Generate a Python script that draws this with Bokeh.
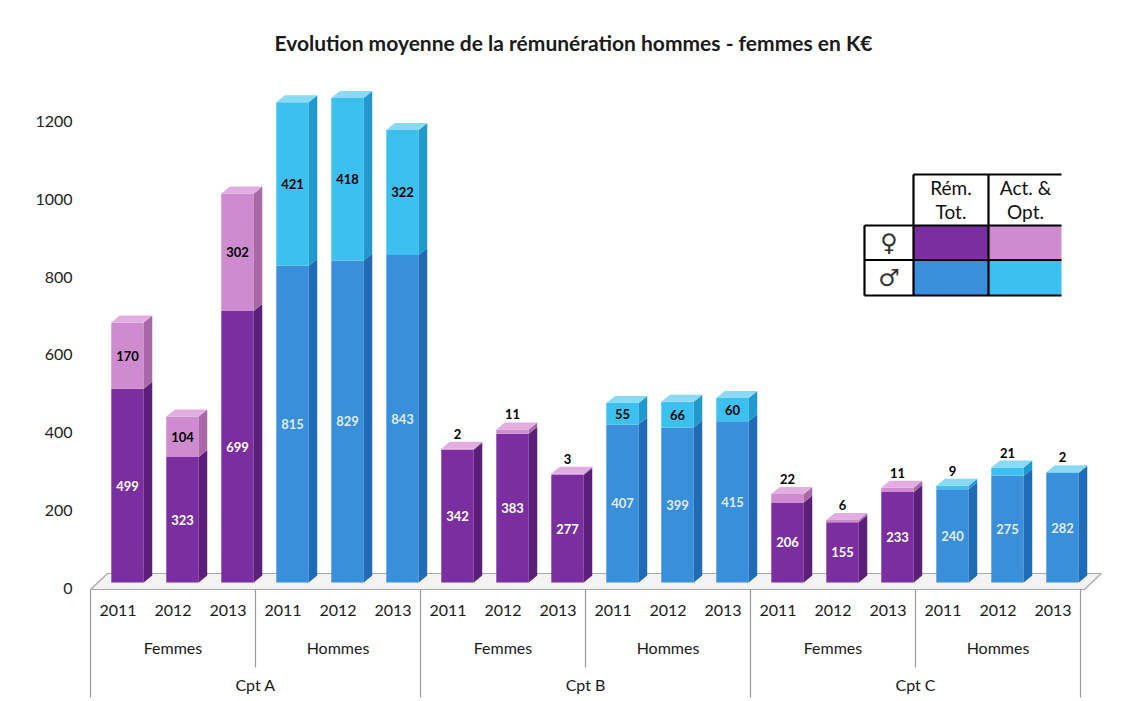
from bokeh.plotting import figure
from bokeh.models import FixedTicker, Range1d, ColumnDataSource, LinearAxis
from bokeh.core.properties import value
from bokeh.embed import file_html
from bokeh.resources import INLINE

# ---------------- data ----------------
comptes = ["Cpt A", "Cpt B", "Cpt C"]
sexes = ["Femmes", "Hommes"]
annees = ["2011", "2012", "2013"]
# order: Cpt A 2011-2013, Cpt B 2011-2013, Cpt C 2011-2013
rem_femmes = [499, 323, 699, 342, 383, 277, 206, 155, 233]
act_femmes = [170, 104, 302, 2, 11, 3, 22, 6, 11]
rem_hommes = [815, 829, 843, 407, 399, 415, 240, 275, 282]
act_hommes = [421, 418, 322, 55, 66, 60, 9, 21, 2]
y_ticks = [0, 200, 400, 600, 800, 1000, 1200]
legend_cols = ["Rém.\nTot.", "Act. &\nOpt."]
legend_rows = ["♀", "♂"]

# ---------------- styling ----------------
FONT = "Lato"
# [front, side, top] for (rem, act) of femmes / hommes
COLORS = {
    0: (("#7B2E9F", "#5B1F7A", "#9A55B8"), ("#CF8BCF", "#A868A8", "#E2AEE2")),
    1: (("#3A8FDA", "#1F6BB5", "#6AAFE8"), ("#3CC0F0", "#2099CC", "#8ADAF6")),
}
W, H = 1119, 698
FRAME_L, FRAME_T = 86, 60      # page pixels
ORIG_X, ORIG_Y = 90, 582       # page pixels of slot 0 / value 0
PXX = 55.0       # pixels per category slot
PXY = 0.3885     # pixels per K€
BAR_L = 0.378    # front-face left offset inside the slot
BAR_W = 0.59     # front-face width (slot units)
DX = 8.5 / PXX   # depth (3D) offsets
DY = 7.0 / PXY
WALL_SHIFT = 5.5 / PXY   # value axis is read on the floor's front edge

y0, y1 = (ORIG_Y - H) / PXY, (ORIG_Y - FRAME_T) / PXY
p = figure(width=W, height=H, output_backend="svg", toolbar_location=None,
           x_range=Range1d((FRAME_L - ORIG_X) / PXX, (W - ORIG_X) / PXX),
           y_range=Range1d(y0, y1),
           x_axis_location=None, y_axis_location=None, min_border_left=FRAME_L,
           min_border_right=0, min_border_top=FRAME_T, min_border_bottom=0)
p.extra_y_ranges = {"wall": Range1d(y0 + WALL_SHIFT, y1 + WALL_SHIFT)}
p.outline_line_color = None
p.grid.visible = False
p.background_fill_color = "white"
p.border_fill_color = "white"

p.title.text = "Evolution moyenne de la rémunération hommes - femmes en K€"
p.title.text_font = FONT
p.title.text_font_size = "21px"
p.title.text_font_style = "bold"
p.title.text_color = "#1a1a1a"
p.title.align = "left"
p.title.offset = 188
p.title.standoff = 11

yax = LinearAxis(y_range_name="wall", ticker=FixedTicker(ticks=y_ticks))
yax.axis_line_color = None
yax.major_tick_line_color = None
yax.minor_tick_line_color = None
yax.major_label_standoff = 8
yax.major_label_text_font = FONT
yax.major_label_text_font_size = "16px"
yax.major_label_text_color = "#222222"
p.add_layout(yax, "left")

# ---------------- floor ----------------
FL_FRONT = -7 / PXY
FL_BACK = 9 / PXY
FL_SHIFT = 17 / PXX
p.patch(x=[0, 18.07, 18.07 + FL_SHIFT, FL_SHIFT], y=[FL_FRONT, FL_FRONT, FL_BACK, FL_BACK],
        fill_color="#f3f3f3", line_color="#a8a8a8", line_width=1.2)

# ---------------- bars ----------------
front = dict(left=[], right=[], bottom=[], top=[], color=[])
side = dict(xs=[], ys=[], color=[])
topf = dict(xs=[], ys=[], color=[])
lab_in = dict(x=[], y=[], text=[], color=[], alpha=[])
lab_act = dict(x=[], y=[], text=[])

for c in range(3):
    for s, (rem, act) in enumerate([(rem_femmes, act_femmes), (rem_hommes, act_hommes)]):
        for yi in range(3):
            k = c * 3 + yi
            slot = c * 6 + s * 3 + yi
            l = slot + BAR_L
            r = l + BAR_W
            segs = [(0, rem[k], COLORS[s][0]), (rem[k], rem[k] + act[k], COLORS[s][1])]
            for b, t, col in segs:
                front["left"].append(l); front["right"].append(r)
                front["bottom"].append(b); front["top"].append(t)
                front["color"].append(col[0])
                side["xs"].append([r, r + DX, r + DX, r])
                side["ys"].append([b, b + DY, t + DY, t])
                side["color"].append(col[1])
            tt = rem[k] + act[k]
            topf["xs"].append([l, r, r + DX, l + DX])
            topf["ys"].append([tt, tt, tt + DY, tt + DY])
            topf["color"].append(COLORS[s][1][2])
            cx = l + BAR_W / 2
            lab_in["x"].append(cx); lab_in["y"].append(rem[k] / 2)
            lab_in["text"].append(str(rem[k]))
            lab_in["color"].append("white")
            lab_in["alpha"].append(1.0 if s == 0 else 0.85)
            lab_act["x"].append(cx)
            if act[k] >= 30:
                lab_act["y"].append(rem[k] + act[k] / 2)
            else:
                lab_act["y"].append(tt + 15 / PXY)
            lab_act["text"].append(str(act[k]))

p.quad(left="left", right="right", bottom="bottom", top="top", fill_color="color",
       line_color=None, source=ColumnDataSource(front))
p.patches(xs="xs", ys="ys", fill_color="color", line_color=None,
          source=ColumnDataSource(side))
p.patches(xs="xs", ys="ys", fill_color="color", line_color=None,
          source=ColumnDataSource(topf))

p.text(x="x", y="y", text="text", text_color="color", text_alpha="alpha",
       text_font=value(FONT), text_font_size="13px", text_font_style="bold",
       text_align="center", text_baseline="middle", source=ColumnDataSource(lab_in))
p.text(x="x", y="y", text="text", text_color="black",
       text_font=value(FONT), text_font_size="13px", text_font_style="bold",
       text_align="center", text_baseline="middle", source=ColumnDataSource(lab_act))

# ---------------- hierarchical category axis (drawn) ----------------
def X(px):
    return (px - ORIG_X) / PXX


def Y(py):
    return (ORIG_Y - py) / PXY


Y_YEAR = Y(610)
Y_GROUP = Y(647)
Y_CPT = Y(684)
Y_BOTTOM = Y(697)
Y_MID = Y(667)

sep_x0, sep_y0, sep_x1, sep_y1 = [], [], [], []
for i in range(0, 19, 3):
    full = (i % 6 == 0)
    sep_x0.append(i); sep_x1.append(i)
    sep_y0.append(FL_FRONT); sep_y1.append(Y_BOTTOM if full else Y_MID)
p.segment(x0=sep_x0, y0=sep_y0, x1=sep_x1, y1=sep_y1, line_color="#9a9a9a", line_width=1.2)

yx, yt = [], []
for slot in range(18):
    yx.append(slot + 0.5); yt.append(annees[slot % 3])
p.text(x=yx, y=[Y_YEAR] * len(yx), text=yt, text_font=value(FONT), text_font_size="16px",
       text_color="#1a1a1a", text_align="center", text_baseline="middle")

gx, gt = [], []
for c in range(3):
    for s in range(2):
        gx.append(c * 6 + s * 3 + 1.5); gt.append(sexes[s])
p.text(x=gx, y=[Y_GROUP] * len(gx), text=gt, text_font=value(FONT), text_font_size="16px",
       text_color="#1a1a1a", text_align="center", text_baseline="middle")

p.text(x=[c * 6 + 3 for c in range(3)], y=[Y_CPT] * 3, text=comptes, text_font=value(FONT),
       text_font_size="16px", text_color="#1a1a1a", text_align="center", text_baseline="middle")

# ---------------- legend table ----------------
cx0, cx1, cx2, cx3 = X(864), X(913), X(988), X(1061)
ry0, ry1, ry2, ry3 = Y(174), Y(225), Y(259.5), Y(295)

p.quad(left=[cx1, cx2, cx1, cx2], right=[cx2, cx3, cx2, cx3],
       bottom=[ry2, ry2, ry3, ry3], top=[ry1, ry1, ry2, ry2],
       fill_color=[COLORS[0][0][0], COLORS[0][1][0], COLORS[1][0][0], COLORS[1][1][0]],
       line_color=None)
p.segment(x0=[cx1, cx0, cx0, cx0, cx1, cx2, cx0],
          y0=[ry0, ry1, ry2, ry3, ry0, ry0, ry1],
          x1=[cx3, cx3, cx3, cx3, cx1, cx2, cx0],
          y1=[ry0, ry1, ry2, ry3, ry3, ry3, ry3],
          line_color="black", line_width=2.2)

hx, hy, ht = [], [], []
for j, lab in enumerate(legend_cols):
    a, b = lab.split("\n")
    xm = (cx1 + cx2) / 2 if j == 0 else X(1025)
    hx += [xm, xm]; hy += [Y(187), Y(211)]; ht += [a, b]
p.text(x=hx, y=hy, text=ht, text_font=value(FONT), text_font_size="19px",
       text_color="#111111", text_align="center", text_baseline="middle")
p.text(x=[(cx0 + cx1) / 2] * 2, y=[(ry1 + ry2) / 2, (ry2 + ry3) / 2], text=legend_rows,
       text_font=value("DejaVu Sans"), text_font_size="24px", text_color="#333333",
       text_align="center", text_baseline="middle")

open("out.html", "w").write(file_html(p, INLINE))
